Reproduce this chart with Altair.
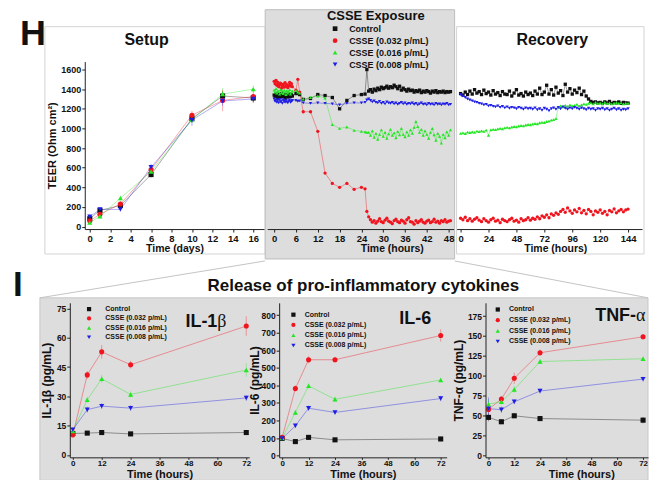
import altair as alt
import pandas as pd

FONT = "Liberation Sans"
SERIES = ["Control", "CSSE (0.032 p/mL)", "CSSE (0.016 p/mL)", "CSSE (0.008 p/mL)"]
COLORS = ["#111111", "#f0141e", "#22e622", "#1e1ee6"]
SHAPES = ["square", "circle", "triangle-up", "triangle-down"]
GREY = "#dddddd"

# ---------------- Setup (days) ----------------
setup_days = [0, 1, 3, 6, 10, 13, 16]
setup_control = [80, 165, 215, 530, 1100, 1330, 1310]
setup_032 = [60, 125, 230, 580, 1135, 1285, 1325]
setup_016 = [40, 105, 290, 560, 1090, 1350, 1400]
setup_008 = [100, 175, 175, 605, 1085, 1280, 1300]
setup_err_control = [20, 25, 25, 30, 40, 50, 40]
setup_err_032 = [15, 20, 30, 40, 45, 110, 60]
setup_err_016 = [15, 20, 25, 40, 40, 60, 40]
setup_err_008 = [15, 20, 20, 35, 60, 50, 40]

# ---------------- CSSE exposure (hours) ----------------
exp_t_a = [0, 0.25, 0.5, 0.75, 1, 1.25, 1.5, 1.75, 2, 2.25, 2.5, 2.75, 3, 3.25,
           3.5, 3.75, 4, 4.25, 4.5, 4.75, 5]
exp_t_mid = [6, 6.5, 7, 8, 10, 12, 14, 16, 18, 20, 22, 24, 25, 25.5]
exp_t_b = [26 + 0.5 * i for i in range(46)]

exp_control = ([1340, 1325, 1350, 1335, 1315, 1345, 1330, 1320, 1355, 1335, 1325, 1340, 1310, 1345, 1330, 1320, 1350, 1335, 1325, 1345, 1330]
               + [1355, 1360, 1345, 1295, 1305, 1345, 1335, 1315, 1200, 1285, 1335, 1345, 1350, 1600]
               + [1380, 1395, 1370, 1400, 1385, 1410, 1395, 1420, 1405, 1415, 1430, 1410, 1425, 1415, 1440, 1425,
                  1405, 1430, 1390, 1410, 1395, 1380, 1400, 1385, 1390, 1370, 1385, 1375, 1390, 1365, 1380, 1370,
                  1385, 1375, 1360, 1380, 1370, 1385, 1365, 1375, 1370, 1380, 1365, 1375, 1370, 1375])
exp_032 = ([1480, 1455, 1490, 1440, 1470, 1425, 1445, 1460, 1410, 1435, 1450, 1420, 1465, 1430, 1445, 1415, 1440, 1470, 1430, 1455, 1425]
           + [1390, 1500, 1370, 1170, 1170, 970, 545, 440, 400, 440, 380, 400, 385, 155]
           + [100, 70, 45, 60, 35, 55, 80, 50, 40, 65, 85, 55, 45, 30, 60, 75, 50, 40, 65, 55, 35, 70, 90,
              50, 45, 25, 60, 40, 55, 70, 45, 35, 55, 65, 40, 50, 75, 45, 55, 35, 60, 50, 70, 45, 55, 60])
exp_016 = ([1390, 1370, 1405, 1360, 1385, 1375, 1350, 1395, 1365, 1380, 1355, 1390, 1370, 1345, 1385, 1360, 1375, 1395, 1350, 1370, 1380]
           + [1385, 1370, 1360, 1300, 1315, 1330, 1310, 1040, 1000, 1015, 980, 970, 965, 960]
           + [960, 930, 975, 910, 950, 890, 940, 985, 920, 960, 900, 945, 990, 930, 955, 905, 970, 935, 1000,
              940, 915, 965, 930, 985, 950, 1010, 1070, 1020, 960, 990, 930, 975, 940, 900, 960, 1000, 935,
              880, 950, 920, 850, 940, 905, 965, 930, 985])
exp_008 = ([1300, 1275, 1290, 1265, 1285, 1260, 1295, 1270, 1280, 1255, 1290, 1275, 1265, 1285, 1270, 1260, 1280, 1290, 1265, 1275, 1285]
           + [1285, 1275, 1280, 1260, 1255, 1260, 1255, 1250, 1240, 1255, 1260, 1260, 1265, 1290]
           + [1300, 1285, 1270, 1280, 1265, 1260, 1275, 1255, 1265, 1250, 1270, 1260, 1255, 1265, 1250, 1260,
              1245, 1255, 1265, 1250, 1260, 1245, 1255, 1250, 1260, 1245, 1255, 1240, 1250, 1260, 1245, 1250,
              1240, 1255, 1245, 1250, 1240, 1255, 1245, 1250, 1240, 1250, 1245, 1255, 1240, 1245])
exp_times = exp_t_a + exp_t_mid + exp_t_b

# ---------------- Recovery (hours) ----------------
rec_t = [2 * i for i in range(73)]
rec_control = [1355, 1340, 1370, 1345, 1380, 1350, 1395, 1360, 1375, 1345,
               1390, 1355, 1370, 1340, 1385, 1350, 1365, 1335, 1375, 1350,
               1345, 1380, 1330, 1360, 1395, 1340, 1355, 1330, 1370, 1345,
               1360, 1335, 1380, 1350, 1410, 1345, 1370, 1440, 1350, 1395,
               1340, 1420, 1360, 1385, 1335, 1450, 1370, 1405, 1350, 1390,
               1365, 1410, 1345, 1380, 1330, 1300, 1275, 1265, 1270, 1260,
               1265, 1255, 1270, 1260, 1275, 1255, 1265, 1260, 1270, 1255, 1265, 1260, 1258]
rec_032 = [85, 70, 95, 60, 80, 55, 75, 90, 65, 50,
           80, 60, 45, 70, 85, 55, 65, 40, 75, 60,
           50, 70, 85, 55, 65, 45, 80, 60, 70, 90,
           65, 85, 75, 100, 80, 110, 95, 120, 90, 130,
           115, 140, 125, 155, 175, 145, 190, 160, 135, 170,
           150, 185, 140, 165, 130, 175, 155, 120, 160, 145,
           170, 135, 155, 120, 165, 150, 180, 140, 160, 175, 150, 170, 178]
rec_016 = [950, 955, 948, 962, 958, 965, 960, 972, 968, 975,
           970, 982, 930, 985, 990, 988, 995, 1000, 996, 1005,
           1010, 1006, 1015, 1020, 1016, 1025, 1030, 1026, 1035, 1040,
           1038, 1045, 1050, 1048, 1058, 1062, 1060, 1070, 1075, 1085,
           1090, 1100, 1215, 1230, 1220, 1235, 1225, 1240, 1230, 1235,
           1245, 1230, 1240, 1250, 1245, 1255, 1260, 1250, 1265, 1255,
           1260, 1250, 1265, 1255, 1260, 1250, 1258, 1262, 1255, 1260, 1250, 1258, 1255]
rec_008 = [1345, 1330, 1315, 1300, 1290, 1280, 1270, 1265, 1255, 1250,
           1240, 1245, 1230, 1235, 1225, 1220, 1230, 1215, 1225, 1210,
           1220, 1205, 1215, 1210, 1200, 1215, 1205, 1195, 1210, 1200,
           1205, 1195, 1210, 1190, 1200, 1185, 1205, 1195, 1180, 1200,
           1210, 1195, 1215, 1200, 1220, 1205, 1195, 1210, 1200, 1215,
           1205, 1195, 1210, 1200, 1190, 1205, 1195, 1200, 1185, 1200,
           1195, 1205, 1190, 1200, 1185, 1195, 1205, 1190, 1200, 1185, 1195, 1190, 1200]

# ---------------- Cytokines ----------------
cyt_t = [0, 6, 12, 24, 72]
il1_control = [11, 11.2, 11.5, 10.8, 11.5]
il1_032 = [10.3, 41, 52.8, 46.2, 66]
il1_016 = [12.3, 28.3, 39, 31, 43.5]
il1_008 = [13, 23.2, 25, 24, 29.2]
il1_err = [[0.8, 0.8, 0.8, 0.8, 0.8], [1.2, 2.0, 3.5, 2.0, 5.0], [1.0, 1.5, 2.0, 1.5, 3.5], [1.2, 1.5, 1.5, 1.5, 1.5]]
il6_control = [98, 80, 104, 90, 95]
il6_032 = [104, 382, 546, 546, 684]
il6_016 = [100, 246, 397, 321, 431]
il6_008 = [98, 170, 270, 246, 325]
il6_err = [[10, 8, 12, 10, 10], [12, 18, 20, 15, 35], [10, 15, 15, 15, 12], [12, 12, 15, 12, 15]]
tnf_control = [48, 42.5, 50, 46.5, 44.5]
tnf_032 = [58, 71, 97, 129, 149]
tnf_016 = [64.5, 67.5, 83, 118, 121.5]
tnf_008 = [59, 57.5, 67.5, 81, 96]
tnf_err = [[5, 3, 3, 3, 4], [5, 4, 7, 4, 3], [6, 3, 4, 3, 3], [14, 4, 3, 3, 3]]


def long_df(times, values_list, errs_list=None):
    rows = []
    for k, (name, vals) in enumerate(zip(SERIES, values_list)):
        assert len(vals) == len(times), (name, len(vals), len(times))
        for i, (t, v) in enumerate(zip(times, vals)):
            e = errs_list[k][i] if errs_list else 0
            rows.append({"t": t, "v": v, "series": name, "lo": v - e, "hi": v + e})
    return pd.DataFrame(rows)


ONE = pd.DataFrame({"k": [0]})


def txt(text, x, y, size, weight="bold", align="center", baseline="middle", font=FONT):
    return alt.Chart(ONE).mark_text(text=text, fontSize=size, fontWeight=weight, align=align,
                                    baseline=baseline, font=font, color="#111111").encode(
        x=alt.value(x), y=alt.value(y))


def box(x1, x2, y1, y2, fill, stroke):
    return alt.Chart(ONE).mark_rect(fill=fill, stroke=stroke, strokeWidth=1).encode(
        x=alt.value(x1), x2=alt.value(x2), y=alt.value(y1), y2=alt.value(y2))


def seg(x1, y1, x2, y2):
    return alt.Chart(ONE).mark_rule(color="#c4c4c4", strokeWidth=1).encode(
        x=alt.value(x1), y=alt.value(y1), x2=alt.value(x2), y2=alt.value(y2))


def legend(lx, ly, fs, sym, off, rowpad):
    return alt.Legend(orient="none", legendX=lx, legendY=ly, title=None, labelFont=FONT,
                      labelFontSize=fs, labelFontWeight="bold", labelColor="#111111",
                      symbolSize=sym, labelOffset=off, rowPadding=rowpad, padding=0,
                      symbolStrokeWidth=0, zindex=2)


def data_layers(df, xdom, ydom, xaxis, yaxis, size, leg=None, errors=False, line_op=0.45):
    xs = alt.Scale(domain=xdom, nice=False, zero=False)
    ys = alt.Scale(domain=ydom, nice=False, zero=False)
    x = alt.X("t:Q", scale=xs, axis=xaxis)
    y = alt.Y("v:Q", scale=ys, axis=yaxis)
    cscale = alt.Scale(domain=SERIES, range=COLORS)
    sscale = alt.Scale(domain=SERIES, range=SHAPES)
    # stroke scale lists the same series in reverse order (keeps its legend separate and off)
    stroke = alt.Stroke("series:N", scale=alt.Scale(domain=SERIES[::-1], range=COLORS[::-1]), legend=None)
    base = alt.Chart(df)
    layers = []
    if errors:
        layers.append(base.mark_rule(strokeWidth=0.8, opacity=0.45).encode(
            x=x, y=alt.Y("lo:Q", scale=ys, axis=yaxis), y2="hi:Q", stroke=stroke))
    layers.append(base.mark_line(strokeWidth=0.9, opacity=line_op).encode(x=x, y=y, stroke=stroke))
    col = alt.Color("series:N", scale=cscale, legend=leg)
    shp = alt.Shape("series:N", scale=sscale, legend=leg)
    layers.append(base.mark_point(filled=True, size=size, opacity=1).encode(x=x, y=y, color=col, shape=shp))
    return layers


def xax(values, title, fs_label=9.5, fs_title=10.5, title_x=None, tick=3, lpad=1, tpad=1):
    kw = dict(values=values, title=title, labelFontSize=fs_label, titleFontSize=fs_title,
              tickSize=tick, labelPadding=lpad, titlePadding=tpad, labelFlush=False,
              labelOverlap=False, zindex=1, format="d")
    if title_x is not None:
        kw["titleX"] = title_x
    return alt.Axis(**kw)


def yax(values, title, fs_label=9, fs_title=11, tpad=3, tick=3):
    return alt.Axis(values=values, title=title, labelFontSize=fs_label, titleFontSize=fs_title,
                    tickSize=tick, labelPadding=1, titlePadding=tpad, labelFlush=False,
                    labelOverlap=False, zindex=1, format="d")


def independent(ch):
    return ch.resolve_scale(color="independent", shape="independent", stroke="independent").resolve_legend(
        color="independent", shape="independent", stroke="independent")


TOP_H = 168
TOP_YDOM = [-25, 1681]

# ---- spacer (top row) ----
spacer_top = alt.Chart(ONE).mark_point(opacity=0).encode(
    x=alt.X("k:Q", axis=None), y=alt.Y("k:Q", axis=None)).properties(width=12, height=TOP_H)

# ---- Setup ----
setup_df = long_df(setup_days, [setup_control, setup_032, setup_016, setup_008],
                   [setup_err_control, setup_err_032, setup_err_016, setup_err_008])
setup = alt.layer(
    box(-40, 181, -35, 193, "#ffffff", "#d4d4d4"),
    txt("H", -65, -17, 36, align="left", baseline="alphabetic"),
    txt("Setup", 62, -22, 16),
    *data_layers(setup_df, [-0.488, 17.07], TOP_YDOM,
                 xax(list(range(0, 17, 2)), "Time (days)"),
                 yax(list(range(0, 1601, 200)), "TEER (Ohm cm²)"),
                 size=26, errors=True, line_op=0.4),
).properties(width=180, height=TOP_H)

# ---- CSSE exposure ----
exp_df = long_df(exp_times, [exp_control, exp_032, exp_016, exp_008])
exposure = alt.layer(
    box(-2, 188, -52, 198, GREY, "#bdbdbd"),
    txt("CSSE Exposure", 109, -52, 13, baseline="top"),
    *data_layers(exp_df, [-1.92, 49.37], TOP_YDOM,
                 xax(list(range(0, 49, 6)), "Time (hours)", title_x=125),
                 None, size=11,
                 leg=legend(63.6, -37.5, 9, 22, 9.6, 2)),
).properties(width=187, height=TOP_H)

# ---- Recovery ----
rec_df = long_df(rec_t, [rec_control, rec_032, rec_016, rec_008])
recovery = alt.layer(
    box(0, 188, -35, 193, "#ffffff", "#d4d4d4"),
    txt("Recovery", 96, -22, 16),
    *data_layers(rec_df, [-3.43, 156], TOP_YDOM,
                 xax(list(range(0, 145, 24)), "Time (hours)", title_x=99),
                 None, size=11),
).properties(width=186, height=TOP_H)

top_row = independent(alt.hconcat(spacer_top, setup, exposure, recovery, spacing=3, bounds="flush"))

# ---- Cytokines ----
BOT_H = 155


def bot_xax(title_x=None):
    return xax(list(range(0, 73, 12)), "Time (hours)", fs_label=8, fs_title=11,
               title_x=title_x, tick=2, lpad=0, tpad=1)


il1_df = long_df(cyt_t, [il1_control, il1_032, il1_016, il1_008], il1_err)
il1 = alt.layer(
    box(-30, 580, -5, 178, GREY, "#c8c8c8"),
    seg(-30, -5, 196, -42),
    seg(580, -5, 386, -42),
    txt("I", -57, -7, 35, align="left", baseline="alphabetic"),
    txt("Release of pro-inflammatory cytokines", 294.5, -12, 17, baseline="alphabetic"),
    txt("IL-1", 148, 24, 18, align="right", baseline="alphabetic"),
    txt("β", 148, 24, 18, weight="normal", align="left", baseline="alphabetic", font="Liberation Serif"),
    *data_layers(il1_df, [-1.24, 73.24], [-1.2, 77.9], bot_xax(),
                 yax(list(range(0, 76, 15)), "IL-1β (pg/mL)", fs_label=8.5, fs_title=12, tpad=3),
                 size=26, leg=legend(15.8, 2.8, 7, 18, 12.8, 1.4), errors=True),
).properties(width=180, height=BOT_H)

sp1 = alt.Chart(ONE).mark_point(opacity=0).encode(
    x=alt.X("k:Q", axis=None), y=alt.Y("k:Q", axis=None)).properties(width=24, height=BOT_H)
sp2 = alt.Chart(ONE).mark_point(opacity=0).encode(
    x=alt.X("k:Q", axis=None), y=alt.Y("k:Q", axis=None)).properties(width=33, height=BOT_H)

il6_df = long_df(cyt_t, [il6_control, il6_032, il6_016, il6_008], il6_err)
il6 = alt.layer(
    txt("IL-6", 136.5, 21, 18, baseline="alphabetic"),
    *data_layers(il6_df, [-1.36, 74.7], [-9.6, 870], bot_xax(),
                 yax(list(range(0, 801, 100)), "IL-6 (pg/mL)", fs_label=8.5, fs_title=12, tpad=0),
                 size=26, leg=legend(10.8, 8.4, 7, 18, 7.8, 2.3), errors=True),
).properties(width=168, height=BOT_H)

tnf_df = long_df(cyt_t, [tnf_control, tnf_032, tnf_016, tnf_008], tnf_err)
tnf = alt.layer(
    txt("TNF-", 151, 18, 18, align="right", baseline="alphabetic"),
    txt("α", 151, 18, 18, weight="normal", align="left", baseline="alphabetic", font="Liberation Serif"),
    *data_layers(tnf_df, [-1.39, 74.3], [-2.1, 191.6], bot_xax(title_x=96),
                 yax(list(range(0, 176, 25)), "TNF-α (pg/mL)", fs_label=8.5, fs_title=12, tpad=2),
                 size=26, leg=legend(8.8, 3.2, 7, 18, 7.8, 2.7), errors=True),
).properties(width=163, height=BOT_H)

bottom_row = independent(alt.hconcat(il1, sp1, il6, sp2, tnf, spacing=3, bounds="flush"))

chart = independent(alt.vconcat(top_row, bottom_row, spacing=0)).properties(
    padding={"left": 5, "top": 0, "right": 2, "bottom": 0}
).configure_view(stroke=None).configure_axis(
    labelFont=FONT, titleFont=FONT, labelFontWeight="bold", titleFontWeight="bold",
    labelColor="#111111", titleColor="#111111", domainColor="#222222", tickColor="#222222",
    grid=False, domainWidth=1, tickWidth=1
)

chart.save("out.html", embed_options={"renderer": "svg", "actions": False})
